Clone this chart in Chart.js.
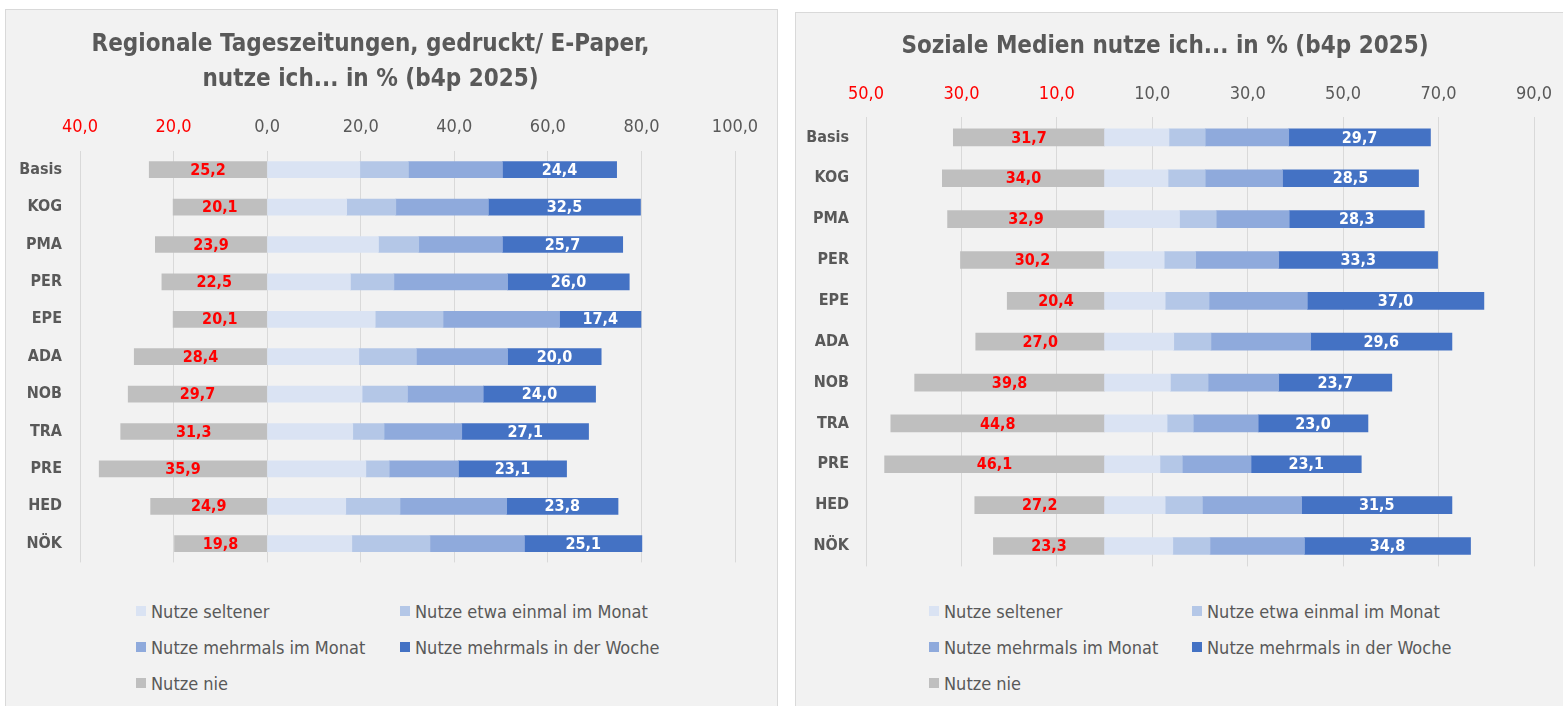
<!DOCTYPE html>
<html lang="de">
<head>
<meta charset="utf-8">
<title>b4p 2025 – Nutzung</title>
<script src="https://cdn.jsdelivr.net/npm/chart.js@4.4.1/dist/chart.umd.min.js"></script>
<style>
  html, body { margin: 0; padding: 0; background: #fff; width: 1563px; height: 706px; overflow: hidden; }
  .panel { position: absolute; background: #f2f2f2; border: 1px solid #d9d9d9; box-sizing: border-box; }
  #panel-left { left: 5px; top: 9px; width: 773px; height: 720px; }
  #panel-right { left: 795px; top: 12px; width: 780px; height: 720px; }
  .canvas-wrap { position: absolute; left: 0; top: 0; }
  #panel-left .canvas-wrap { width: 771px; height: 580px; }
  #panel-right .canvas-wrap { width: 777px; height: 580px; }
  .legend {
    position: absolute; display: grid; grid-auto-rows: 36px; align-items: center;
    font-family: 'Liberation Sans Narrow', 'DejaVu Sans Condensed', 'Arial Narrow', sans-serif;
    font-size: 18px; color: #595959;
  }
  #legend-left { left: 130px; top: 583px; grid-template-columns: 264px auto; }
  #legend-right { left: 133px; top: 580px; grid-template-columns: 263px auto; }
  .legend .item { display: flex; align-items: center; white-space: nowrap; }
  .legend .box { width: 10px; height: 10px; margin-right: 5px; flex: none; }
</style>
</head>
<body>
<div class="panel" id="panel-left">
  <div class="canvas-wrap"><canvas id="chart-left"></canvas></div>
  <div class="legend" id="legend-left"></div>
</div>
<div class="panel" id="panel-right">
  <div class="canvas-wrap"><canvas id="chart-right"></canvas></div>
  <div class="legend" id="legend-right"></div>
</div>
<script>
const FONT = "'Liberation Sans Narrow', 'DejaVu Sans Condensed', 'Arial Narrow', sans-serif";

const CATEGORIES = ['Basis', 'KOG', 'PMA', 'PER', 'EPE', 'ADA', 'NOB', 'TRA', 'PRE', 'HED', 'NÖK'];
const SERIES_NAMES = [
  'Nutze seltener',
  'Nutze etwa einmal im Monat',
  'Nutze mehrmals im Monat',
  'Nutze mehrmals in der Woche',
  'Nutze nie',
];

// Regionale Tageszeitungen, gedruckt / E-Paper
const zeitungSeltener = [19.8, 17.0, 23.8, 17.8, 23.1, 19.6, 20.3, 18.3, 21.1, 16.8, 18.1];
const zeitungEtwaMonat = [10.4, 10.5, 8.6, 9.3, 14.5, 12.3, 9.7, 6.7, 5.0, 11.6, 16.7];
const zeitungMehrMonat = [20.1, 19.8, 17.9, 24.3, 24.9, 19.5, 16.2, 16.6, 14.8, 22.8, 20.2];
const zeitungWoche = [24.4, 32.5, 25.7, 26.0, 17.4, 20.0, 24.0, 27.1, 23.1, 23.8, 25.1];
const zeitungNie = [25.2, 20.1, 23.9, 22.5, 20.1, 28.4, 29.7, 31.3, 35.9, 24.9, 19.8];
const zeitungTicks = [-40, -20, 0, 20, 40, 60, 80, 100];

// Soziale Medien
const sozialSeltener = [13.5, 13.3, 15.7, 12.5, 12.7, 14.5, 13.8, 13.1, 11.6, 12.7, 14.3];
const sozialEtwaMonat = [7.6, 7.8, 7.7, 6.6, 9.2, 7.8, 7.9, 5.5, 4.7, 7.8, 7.8];
const sozialMehrMonat = [17.5, 16.2, 15.3, 17.4, 20.6, 20.9, 14.8, 13.6, 14.4, 20.8, 19.8];
const sozialWoche = [29.7, 28.5, 28.3, 33.3, 37.0, 29.6, 23.7, 23.0, 23.1, 31.5, 34.8];
const sozialNie = [31.7, 34.0, 32.9, 30.2, 20.4, 27.0, 39.8, 44.8, 46.1, 27.2, 23.3];
const sozialTicks = [-50, -30, -10, 10, 30, 50, 70, 90];

const COLORS = ['#dae3f3', '#b4c7e7', '#8faadc', '#4472c4', '#bfbfbf'];

function fmt(value) {
  return Math.abs(value).toFixed(1).replace('.', ',');
}

// writes the value into the "nie" and "Woche" segments
const valueLabels = {
  id: 'valueLabels',
  afterDatasetsDraw(chart) {
    const { ctx } = chart;
    chart.data.datasets.forEach((ds, i) => {
      if (!ds.labelColor) return;
      chart.getDatasetMeta(i).data.forEach((bar, j) => {
        ctx.save();
        ctx.font = `bold 16px ${FONT}`;
        ctx.fillStyle = ds.labelColor;
        ctx.textAlign = 'center';
        ctx.textBaseline = 'middle';
        ctx.fillText(fmt(ds.data[j]), (bar.x + bar.base) / 2, bar.y + 1);
        ctx.restore();
      });
    });
  },
};

function buildDatasets(series, barThickness) {
  return series.map((data, i) => ({
    label: SERIES_NAMES[i],
    data: i === 4 ? data.map((v) => -v) : data,
    backgroundColor: COLORS[i],
    borderWidth: 0,
    barThickness,
    labelColor: i === 4 ? '#ff0000' : i === 3 ? '#ffffff' : null,
  }));
}

function renderLegend(chart, id) {
  document.getElementById(id).innerHTML = chart.data.datasets
    .map((ds) => `<div class="item"><span class="box" style="background:${ds.backgroundColor}"></span>${ds.label}</div>`)
    .join('');
}

function makeChart(cfg) {
  const chart = new Chart(document.getElementById(cfg.canvas), {
    type: 'bar',
    data: { labels: CATEGORIES, datasets: buildDatasets(cfg.series, cfg.barThickness) },
    plugins: [valueLabels],
    options: {
      indexAxis: 'y',
      responsive: true,
      maintainAspectRatio: false,
      animation: false,
      layout: { padding: { left: 0, top: 0, right: cfg.padRight, bottom: cfg.padBottom } },
      plugins: {
        legend: { display: false },
        tooltip: { enabled: false },
        title: {
          display: true,
          text: cfg.title,
          color: '#595959',
          font: { family: FONT, size: 24, weight: 'bold', lineHeight: 35 / 24 },
          padding: { top: cfg.titleTop, bottom: 10 },
        },
      },
      scales: {
        x: {
          position: 'top',
          stacked: true,
          min: cfg.ticks[0],
          max: cfg.ticks[cfg.ticks.length - 1],
          afterBuildTicks: (scale) => {
            scale.ticks = cfg.ticks.map((value) => ({ value }));
          },
          afterFit: (scale) => {
            scale.height = cfg.xHeight;
          },
          grid: { color: '#d9d9d9', lineWidth: 1, drawTicks: false },
          border: { display: false },
          ticks: {
            padding: cfg.tickPad,
            font: { family: FONT, size: 18 },
            color: (ctx) => (ctx.tick && ctx.tick.value < 0 ? '#ff0000' : '#595959'),
            callback: (value) => fmt(value),
          },
        },
        y: {
          stacked: true,
          afterFit: (scale) => {
            scale.width = cfg.yWidth;
          },
          grid: { display: false, drawTicks: false },
          border: { display: false },
          ticks: {
            padding: cfg.labelPad,
            color: '#595959',
            font: { family: FONT, size: 16, weight: 'bold' },
          },
        },
      },
    },
  });
  renderLegend(chart, cfg.legend);
  return chart;
}

makeChart({
  canvas: 'chart-left',
  legend: 'legend-left',
  title: ['Regionale Tageszeitungen, gedruckt/ E-Paper,', 'nutze ich... in % (b4p 2025)'],
  series: [zeitungSeltener, zeitungEtwaMonat, zeitungMehrMonat, zeitungWoche, zeitungNie],
  ticks: zeitungTicks,
  barThickness: 16,
  titleTop: 17.5,
  xHeight: 43.5,
  tickPad: 12.8,
  yWidth: 74,
  labelPad: 18,
  padRight: 42,
  padBottom: 22,
});

makeChart({
  canvas: 'chart-right',
  legend: 'legend-right',
  title: 'Soziale Medien nutze ich... in % (b4p 2025)',
  series: [sozialSeltener, sozialEtwaMonat, sozialMehrMonat, sozialWoche, sozialNie],
  ticks: sozialTicks,
  barThickness: 17,
  titleTop: 16.5,
  xHeight: 42.5,
  tickPad: 11.8,
  yWidth: 70,
  labelPad: 17,
  padRight: 39,
  padBottom: 25,
});
</script>
</body>
</html>
